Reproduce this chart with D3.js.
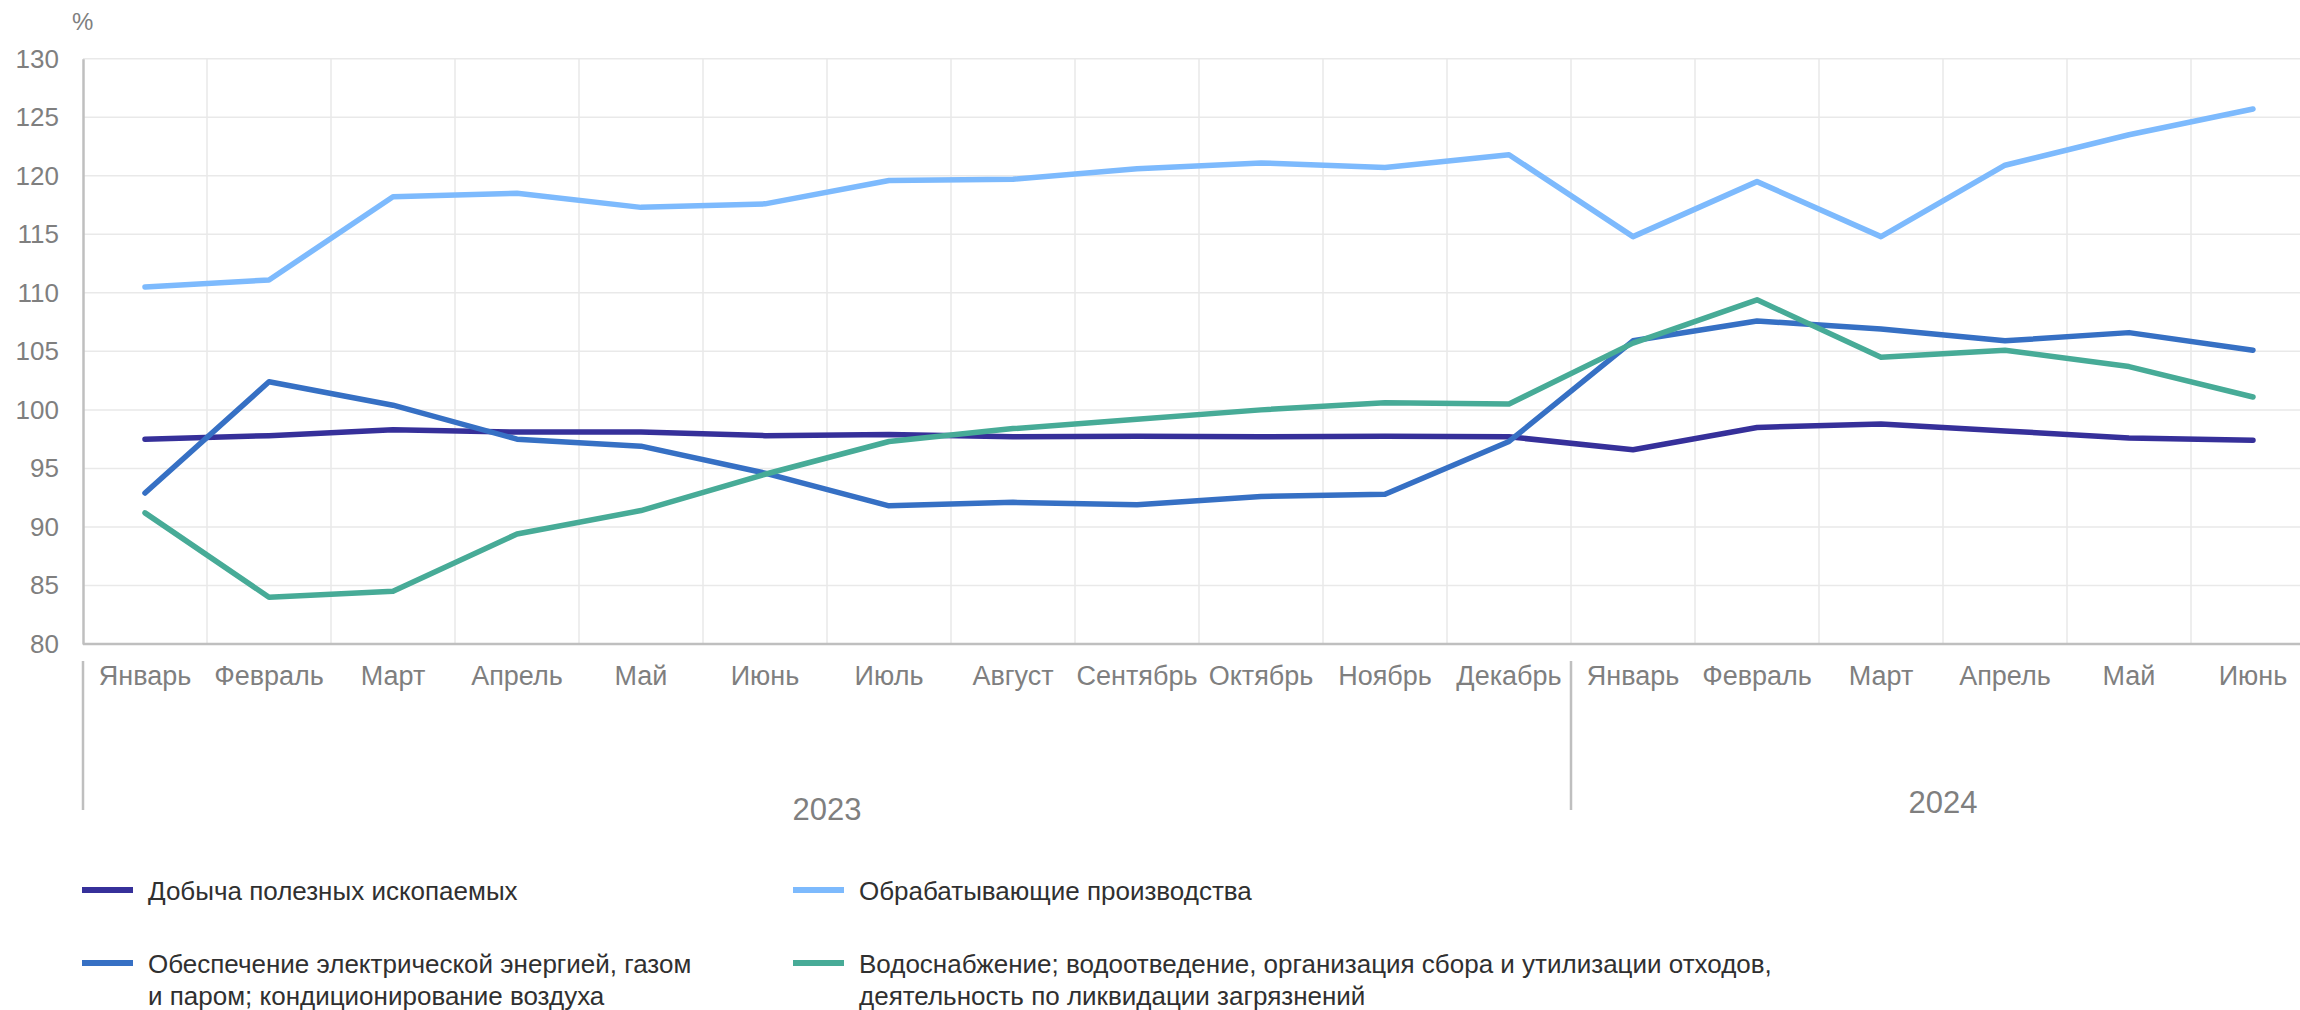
<!DOCTYPE html>
<html>
<head>
<meta charset="utf-8">
<script src="https://cdn.jsdelivr.net/npm/d3@7"></script>
<style>
  body { margin: 0; background: #fff; }
  svg { display: block; font-family: "Liberation Sans", Arial, sans-serif; }
</style>
</head>
<body>
<svg width="2300" height="1010"></svg>
<script>
// months for two years
var months = ["Январь","Февраль","Март","Апрель","Май","Июнь","Июль","Август","Сентябрь","Октябрь","Ноябрь","Декабрь",
              "Январь","Февраль","Март","Апрель","Май","Июнь"];
var years = ["2023","2024"];
var yearLen = [12, 6];
var yTicks = [80,85,90,95,100,105,110,115,120,125,130];

var mining   = [97.5,97.8,98.3,98.1,98.1,97.8,97.9,97.7,97.75,97.7,97.75,97.7, 96.6,98.5,98.8,98.2,97.6,97.4];
var manuf    = [110.5,111.1,118.2,118.5,117.3,117.6,119.6,119.7,120.6,121.1,120.7,121.8, 114.8,119.5,114.8,120.9,123.5,125.7];
var energy   = [92.9,102.4,100.4,97.5,96.9,94.6,91.8,92.1,91.9,92.6,92.8,97.3, 105.9,107.6,106.9,105.9,106.6,105.1];
var water    = [91.2,84.0,84.5,89.4,91.4,94.5,97.3,98.4,99.2,100.0,100.6,100.5, 105.7,109.4,104.5,105.1,103.7,101.1];

var seriesNames = ["Добыча полезных ископаемых",
                   "Обрабатывающие производства",
                   "Обеспечение электрической энергией, газом|и паром; кондиционирование воздуха",
                   "Водоснабжение; водоотведение, организация сбора и утилизации отходов,|деятельность по ликвидации загрязнений"];
var seriesColors = ["#36309a","#7dbafd","#3670c4","#47ab97"];
var seriesData = [mining, manuf, energy, water];

var svg = d3.select("svg");
var plotLeft = 83, band = 124, plotTop = 58.7, plotBottom = 644;

var x = d3.scaleBand().domain(d3.range(months.length)).range([plotLeft, plotLeft + band*months.length]);
var y = d3.scaleLinear().domain([80,130]).range([plotBottom, plotTop]);

// grid
svg.append("g").selectAll("line").data(yTicks.slice(1)).join("line")
  .attr("x1", plotLeft).attr("x2", x.range()[1])
  .attr("y1", function(d){ return y(d); }).attr("y2", function(d){ return y(d); })
  .attr("stroke", "#e9e9e9").attr("stroke-width", 1.5);
svg.append("g").selectAll("line").data(d3.range(1, months.length+1)).join("line")
  .attr("x1", function(i){ return plotLeft + band*i; }).attr("x2", function(i){ return plotLeft + band*i; })
  .attr("y1", plotTop).attr("y2", plotBottom)
  .attr("stroke", "#e9e9e9").attr("stroke-width", 1.5);

// y axis
var yAxis = svg.append("g").attr("transform", "translate(" + plotLeft + ",0)")
  .call(d3.axisLeft(y).tickValues(yTicks).tickSize(0).tickPadding(24));
yAxis.select(".domain").attr("stroke", "#bfbfbf").attr("stroke-width", 2.5);
yAxis.selectAll("text").attr("font-size", 26).attr("fill", "#7f7f7f").attr("font-family", null);

svg.append("text").attr("x", 72).attr("y", 30).attr("font-size", 24).attr("fill", "#7f7f7f").text("%");

// x axis
svg.append("line").attr("x1", plotLeft).attr("x2", x.range()[1]).attr("y1", plotBottom).attr("y2", plotBottom)
  .attr("stroke", "#bfbfbf").attr("stroke-width", 2.5);
var xAxis = svg.append("g").attr("transform", "translate(0," + plotBottom + ")")
  .call(d3.axisBottom(x).tickFormat(function(i){ return months[i]; }).tickSize(0).tickPadding(22));
xAxis.select(".domain").remove();
xAxis.selectAll("text").attr("font-size", 27).attr("fill", "#7f7f7f").attr("font-family", null);

// year separators and labels
var start = 0;
years.forEach(function(yr, k) {
  var x0 = plotLeft + band*start, x1 = plotLeft + band*(start + yearLen[k]);
  svg.append("line").attr("x1", x0).attr("x2", x0).attr("y1", 661).attr("y2", 810)
    .attr("stroke", "#bfbfbf").attr("stroke-width", 2.5);
  svg.append("text").attr("x", (x0 + x1)/2).attr("y", k === 0 ? 820 : 813)
    .attr("text-anchor", "middle").attr("font-size", 31).attr("fill", "#7f7f7f").text(yr);
  start += yearLen[k];
});

// lines
var line = d3.line().x(function(d, i){ return x(i) + x.bandwidth()/2; }).y(function(d){ return y(d); });
seriesData.forEach(function(s, k) {
  svg.append("path").datum(s).attr("d", line)
    .attr("fill", "none").attr("stroke", seriesColors[k]).attr("stroke-width", 5.5)
    .attr("stroke-linejoin", "round").attr("stroke-linecap", "round");
});

// legend
var legPos = [[82, 890], [793, 890], [82, 963], [793, 963]];
seriesNames.forEach(function(name, k) {
  var g = svg.append("g").attr("transform", "translate(" + legPos[k][0] + "," + legPos[k][1] + ")");
  g.append("line").attr("x1", 0).attr("x2", 51).attr("y1", 0).attr("y2", 0)
    .attr("stroke", seriesColors[k]).attr("stroke-width", 6);
  var t = g.append("text").attr("x", 66).attr("y", 10).attr("font-size", 26).attr("fill", "#303030");
  name.split("|").forEach(function(part, j) {
    t.append("tspan").attr("x", 66).attr("dy", j === 0 ? 0 : 32).text(part);
  });
});
</script>
</body>
</html>
